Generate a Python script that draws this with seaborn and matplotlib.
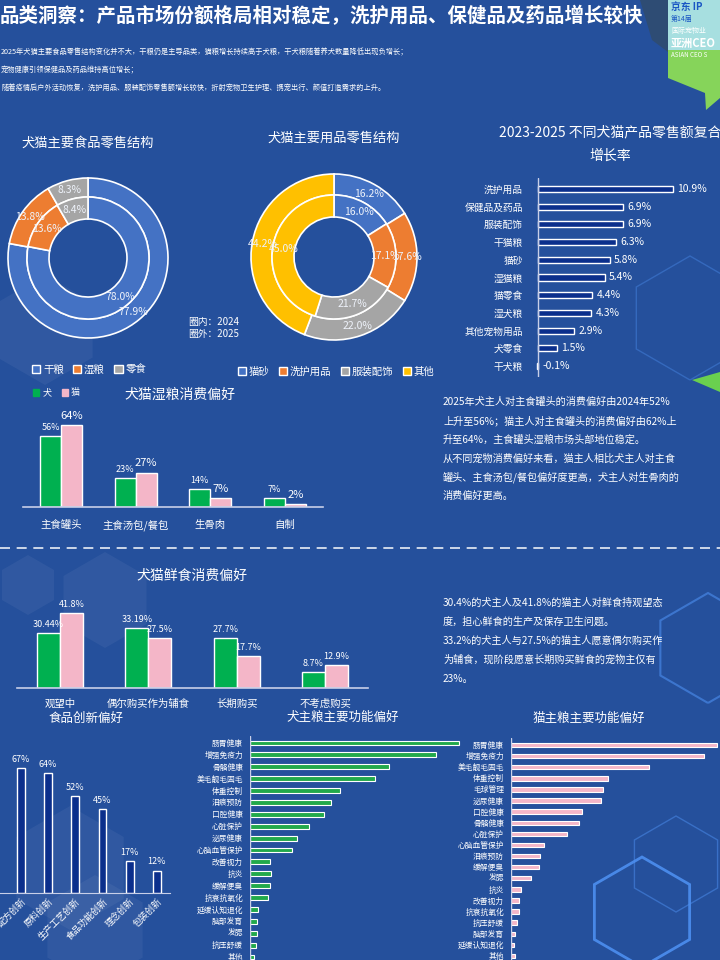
import pandas as pd
import matplotlib.pyplot as plt
from matplotlib.patches import Patch, Polygon, RegularPolygon
import seaborn as sns

sns.set_style("white")
plt.rcParams['font.family'] = ['Noto Sans CJK SC', 'DejaVu Sans']
plt.rcParams['axes.unicode_minus'] = False
plt.rcParams['text.color'] = 'white'

# ---------------- data ----------------
food_cats = ['干粮', '湿粮', '零食']
food_2024 = [78.0, 13.6, 8.4]
food_2025 = [77.9, 13.8, 8.3]

supply_cats = ['猫砂', '洗护用品', '服装配饰', '其他']
supply_2024 = [16.0, 17.1, 21.7, 45.0]
supply_2025 = [16.2, 17.6, 22.0, 44.2]

cagr_cats = ['洗护用品', '保健品及药品', '服装配饰', '干猫粮', '猫砂', '湿猫粮',
             '猫零食', '湿犬粮', '其他宠物用品', '犬零食', '干犬粮']
cagr_vals = [10.9, 6.9, 6.9, 6.3, 5.8, 5.4, 4.4, 4.3, 2.9, 1.5, -0.1]

wet_cats = ['主食罐头', '主食汤包/餐包', '生骨肉', '自制']
wet_dog = [56, 23, 14, 7]
wet_cat = [64, 27, 7, 2]

fresh_cats = ['观望中', '偶尔购买作为辅食', '长期购买', '不考虑购买']
fresh_dog = [30.44, 33.19, 27.7, 8.7]
fresh_cat = [41.8, 27.5, 17.7, 12.9]

innov_cats = ['配方创新', '原料创新', '生产工艺创新', '食品功能创新', '理念创新', '包装创新']
innov_vals = [67, 64, 52, 45, 17, 12]

dog_func_cats = ['肠胃健康', '增强免疫力', '骨骼健康', '美毛靓毛固毛', '体重控制', '泪痕预防',
                 '口腔健康', '心脏保护', '泌尿健康', '心脑血管保护', '改善视力', '抗炎',
                 '缓解便臭', '抗衰抗氧化', '延缓认知退化', '脑部发育', '发腮', '抗压舒缓', '其他']
dog_func_vals = [59.8, 53.1, 39.7, 35.8, 25.8, 23.1, 21.2, 16.9, 13.3, 12.1, 5.8, 6.0,
                 5.7, 5.1, 2.3, 2.1, 1.9, 1.7, 1.0]

cat_func_cats = ['肠胃健康', '增强免疫力', '美毛靓毛固毛', '体重控制', '毛球管理', '泌尿健康',
                 '口腔健康', '骨骼健康', '心脏保护', '心脑血管保护', '泪痕预防', '缓解便臭',
                 '发腮', '抗炎', '改善视力', '抗衰抗氧化', '抗压舒缓', '脑部发育', '延缓认知退化', '其他']
cat_func_vals = [58.9, 55.0, 39.5, 27.7, 26.2, 25.7, 20.4, 19.5, 15.9, 9.3, 8.2, 8.0,
                 5.7, 2.8, 2.4, 2.4, 1.6, 1.0, 0.8, 1.2]

title = '品类洞察：产品市场份额格局相对稳定，洗护用品、保健品及药品增长较快'
top_lines = ['2025年犬猫主要食品零售结构变化并不大，干粮仍是主导品类，猫粮增长持续高于犬粮，干犬粮随着养犬数量降低出现负增长；',
             '宠物健康引领保健品及药品维持高位增长；',
             '随着疫情后户外活动恢复，洗护用品、服装配饰零售额增长较快，折射宠物卫生护理、携宠出行、颜值打造需求的上升。']
wet_lines = ['2025年犬主人对主食罐头的消费偏好由2024年52%',
             '上升至56%；猫主人对主食罐头的消费偏好由62%上',
             '升至64%，主食罐头湿粮市场头部地位稳定。',
             '从不同宠物消费偏好来看，猫主人相比犬主人对主食',
             '罐头、主食汤包/餐包偏好度更高，犬主人对生骨肉的',
             '消费偏好更高。']
fresh_lines = ['30.4%的犬主人及41.8%的猫主人对鲜食持观望态',
               '度，担心鲜食的生产及保存卫生问题。',
               '33.2%的犬主人与27.5%的猫主人愿意偶尔购买作',
               '为辅食，现阶段愿意长期购买鲜食的宠物主仅有',
               '23%。']

# ---------------- style ----------------
BG = '#25509c'
BLUE, ORANGE, GRAY, YELLOW = '#4472c4', '#ed7d31', '#a5a5a5', '#ffc000'
GREEN, PINK, NAVY = '#00b050', '#f4b6c8', '#0b2f8c'
LINE = '#c8cfe8'

W, H = 720, 960
fig = plt.figure(figsize=(7.2, 9.6), dpi=100, facecolor=BG)

bg = fig.add_axes([0, 0, 1, 1])
bg.set_xlim(0, W)
bg.set_ylim(H, 0)
bg.axis('off')


def box(x0, y0, x1, y1):
    ax = fig.add_axes([x0 / W, 1 - y1 / H, (x1 - x0) / W, (y1 - y0) / H])
    ax.set_facecolor('none')
    return ax


def clean(ax):
    sns.despine(ax=ax, left=True, bottom=True)
    ax.set_xlabel('')
    ax.set_ylabel('')


# background decoration
for cx, cy, r in [(45, 330, 55), (28, 585, 30), (105, 600, 48), (70, 868, 62), (95, 930, 55)]:
    bg.add_patch(RegularPolygon((cx, cy), 6, radius=r, fc='white', ec='none', alpha=0.05))
for cx, cy, r, lw, a in [(642, 912, 55, 2, 0.9), (676, 864, 48, 1, 0.5),
                         (690, 318, 62, 1, 0.4), (708, 648, 55, 1.5, 0.6)]:
    bg.add_patch(RegularPolygon((cx, cy), 6, radius=r, fc='none', ec='#4d8ff0', lw=lw, alpha=a))

# logo corner
bg.add_patch(Polygon([(640, 0), (668, 0), (668, 52), (652, 40)], fc='#2e4c74', ec='none'))
bg.add_patch(Polygon([(668, 0), (720, 0), (720, 50), (668, 50)], fc='#a7dfe0', ec='none'))
bg.add_patch(Polygon([(668, 50), (720, 50), (720, 98), (706, 110), (705, 93), (668, 78)],
                     fc='#86d45a', ec='none'))
bg.text(671, 7, '京东 IP', color='#1a56c4', fontsize=7, weight='bold', va='center')
bg.text(671, 19, '第14届', color='#1a56c4', fontsize=5, va='center')
bg.text(671, 31, '国际宠物业', color='white', fontsize=5, va='center')
bg.text(671, 43, '亚洲CEO', color='white', fontsize=8, weight='bold', va='center')
bg.text(671, 55, 'ASIAN CEO S', color='white', fontsize=4.5, va='center')
bg.add_patch(Polygon([(692, 380), (720, 372), (720, 392)], fc='#6ad04f', ec='none'))

# texts
bg.text(0, 16, title, fontsize=14, weight='bold', va='center')
for i, line in enumerate(top_lines):
    bg.text(1, 52 + i * 18, line, fontsize=5.2, va='center')
for i, line in enumerate(wet_lines):
    bg.text(443, 402 + i * 18.8, line, fontsize=7.3, va='center')
for i, line in enumerate(fresh_lines):
    bg.text(443, 603 + i * 18.9, line, fontsize=7.3, va='center')

bg.plot([0, W], [548, 548], color='white', lw=1.2, ls=(0, (6, 4)), alpha=0.9)

bg.text(88, 143, '犬猫主要食品零售结构', ha='center', va='center', fontsize=9.5)
bg.text(334, 138, '犬猫主要用品零售结构', ha='center', va='center', fontsize=9.5)
bg.text(610, 132, '2023-2025 不同犬猫产品零售额复合', ha='center', va='center', fontsize=10)
bg.text(610, 156, '增长率', ha='center', va='center', fontsize=10)
bg.text(180, 395, '犬猫湿粮消费偏好', ha='center', va='center', fontsize=10)
bg.text(192, 576, '犬猫鲜食消费偏好', ha='center', va='center', fontsize=10)
bg.text(86, 718, '食品创新偏好', ha='center', va='center', fontsize=9)
bg.text(343, 717, '犬主粮主要功能偏好', ha='center', va='center', fontsize=9)
bg.text(589, 718, '猫主粮主要功能偏好', ha='center', va='center', fontsize=9)
bg.text(188, 322, '圈内：2024', fontsize=7, va='center')
bg.text(188, 334, '圈外：2025', fontsize=7, va='center')


# ---------------- donuts ----------------
def donut(ax, vals, radius, width, colors):
    it = iter([f'{v}%' for v in vals])
    ax.pie(vals, radius=radius, colors=colors, startangle=90, counterclock=False,
           wedgeprops=dict(width=width, edgecolor='white', linewidth=1.2),
           autopct=lambda p: next(it), pctdistance=(radius - width / 2) / radius,
           textprops=dict(color='#eef2fa', fontsize=7.5))


food_colors = [BLUE, ORANGE, GRAY]
ax1 = box(3, 173, 173, 343)
donut(ax1, food_2025, 80, 19, food_colors)
donut(ax1, food_2024, 61, 22, food_colors)
ax1.set_xlim(-85, 85)
ax1.set_ylim(-85, 85)
ax1.legend(handles=[Patch(fc=c, ec='white', lw=1) for c in food_colors], labels=food_cats,
           loc='center', bbox_to_anchor=(89, 370), bbox_transform=bg.transData, ncol=3,
           frameon=False, fontsize=7.5, labelcolor='white', handlelength=0.8, handleheight=0.8,
           handletextpad=0.25, columnspacing=0.9)

supply_colors = [BLUE, ORANGE, GRAY, YELLOW]
ax2 = box(249, 172, 419, 342)
donut(ax2, supply_2025, 83, 21, supply_colors)
donut(ax2, supply_2024, 62, 22, supply_colors)
ax2.set_xlim(-85, 85)
ax2.set_ylim(-85, 85)
ax2.legend(handles=[Patch(fc=c, ec='white', lw=1) for c in supply_colors], labels=supply_cats,
           loc='center', bbox_to_anchor=(336, 372), bbox_transform=bg.transData, ncol=4,
           frameon=False, fontsize=7.5, labelcolor='white', handlelength=0.8, handleheight=0.8,
           handletextpad=0.25, columnspacing=0.9)


# ---------------- horizontal bar helpers ----------------
def hbar_axes(x0, x1, p0, p1, n):
    s = (p1 - p0) / (n - 1)
    ax = box(x0, p0 - 0.6 * s, x1, p1 + 0.6 * s)
    return ax


# CAGR chart
ax3 = hbar_axes(534, 720, 189, 366, len(cagr_cats))
cagr_df = pd.DataFrame({'cat': cagr_cats, 'val': cagr_vals})
sns.barplot(data=cagr_df, x='val', y='cat', orient='h', color=NAVY, saturation=1,
            width=0.35, edgecolor='white', linewidth=1, ax=ax3)
ax3.set_xlim(-4 / 12.66, 186 / 12.66)
ax3.set_ylim(len(cagr_cats) - 0.4, -0.6)
ax3.axvline(0, color=LINE, lw=1)
for i, v in enumerate(cagr_vals):
    ax3.text(max(v, 0) + 0.35, i, f'{v}%', va='center', fontsize=7.5, color='white')
clean(ax3)
ax3.set_xticks([])
ax3.tick_params(axis='y', length=0, pad=8, labelsize=7, labelcolor='white')


# ---------------- grouped bars ----------------
def grouped(ax, cats, dog, cat, width, sizes):
    df = pd.DataFrame({'cat': cats * 2, 'pet': ['犬'] * len(cats) + ['猫'] * len(cats),
                       'val': dog + cat})
    sns.barplot(data=df, x='cat', y='val', hue='pet', palette=[GREEN, PINK], saturation=1,
                width=width, legend=False, ax=ax)
    for cont, vals, sz in zip(ax.containers, [dog, cat], sizes):
        ax.bar_label(cont, labels=[f'{v}%' for v in vals], padding=3, fontsize=sz, color='white')
    clean(ax)
    ax.spines['bottom'].set_visible(True)
    ax.spines['bottom'].set_color(LINE)
    ax.spines['bottom'].set_linewidth(1.2)
    ax.set_yticks([])


ax4 = box(23, 400, 323, 507)
grouped(ax4, wet_cats, wet_dog, wet_cat, 0.56, [6.5, 8])
ax4.set_xlim(-0.51, 3.51)
ax4.set_ylim(0, 84)
ax4.tick_params(axis='x', length=0, pad=9, labelsize=7.5, labelcolor='white')
ax4.legend(handles=[Patch(color=GREEN), Patch(color=PINK)], labels=['犬', '猫'],
           loc='center left', bbox_to_anchor=(25, 393), bbox_transform=bg.transData, ncol=2,
           frameon=False, fontsize=6.5, labelcolor='white', handlelength=0.7, handleheight=0.7,
           handletextpad=0.3, columnspacing=1.2)

ax5 = box(17, 590, 368, 688)
grouped(ax5, fresh_cats, fresh_dog, fresh_cat, 0.52, [6.5, 6.5])
ax5.set_xlim(-0.487, 3.487)
ax5.set_ylim(0, 54.4)
ax5.tick_params(axis='x', length=0, pad=8, labelsize=7.5, labelcolor='white')

# ---------------- innovation ----------------
ax6 = box(0, 740, 170, 893)
innov_df = pd.DataFrame({'cat': innov_cats, 'val': innov_vals})
sns.barplot(data=innov_df, x='cat', y='val', color=NAVY, saturation=1, width=0.29,
            edgecolor='white', linewidth=1, ax=ax6)
ax6.bar_label(ax6.containers[0], labels=[f'{v}%' for v in innov_vals], padding=3,
              fontsize=6.5, color='white')
ax6.set_xlim(-0.77, 5.48)
ax6.set_ylim(0, 81.8)
clean(ax6)
ax6.spines['bottom'].set_visible(True)
ax6.spines['bottom'].set_color(LINE)
ax6.set_yticks([])
ax6.tick_params(axis='x', length=0, pad=3, labelsize=6.5, labelcolor='white')
for lbl in ax6.get_xticklabels():
    lbl.set_rotation(45)
    lbl.set_ha('right')
    lbl.set_rotation_mode('anchor')

# ---------------- function preferences ----------------
ax7 = hbar_axes(250, 470, 743, 957, len(dog_func_cats))
dog_df = pd.DataFrame({'cat': dog_func_cats, 'val': dog_func_vals})
sns.barplot(data=dog_df, x='val', y='cat', orient='h', color='#22a94b', saturation=1,
            width=0.42, edgecolor='white', linewidth=0.8, ax=ax7)
ax7.set_xlim(0, 220 / 3.5)
ax7.set_ylim(len(dog_func_cats) - 0.4, -0.6)
ax7.axvline(0, color=LINE, lw=1)
clean(ax7)
ax7.set_xticks([])
ax7.tick_params(axis='y', length=0, pad=5, labelsize=5.6, labelcolor='white')

ax8 = hbar_axes(511, 720, 745, 956, len(cat_func_cats))
cat_df = pd.DataFrame({'cat': cat_func_cats, 'val': cat_func_vals})
sns.barplot(data=cat_df, x='val', y='cat', orient='h', color=PINK, saturation=1,
            width=0.4, edgecolor='white', linewidth=0.8, ax=ax8)
ax8.set_xlim(0, 209 / 3.5)
ax8.set_ylim(len(cat_func_cats) - 0.4, -0.6)
ax8.axvline(0, color=LINE, lw=1)
clean(ax8)
ax8.set_xticks([])
ax8.tick_params(axis='y', length=0, pad=5, labelsize=5.6, labelcolor='white')

fig.savefig('out.png', dpi=100, facecolor=BG)
